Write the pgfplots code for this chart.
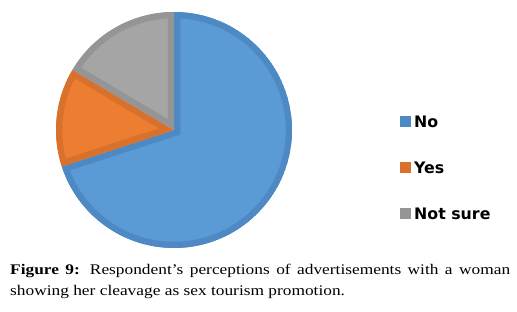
\documentclass[border=0pt]{standalone}
\usepackage{pgfplots}
\pgfplotsset{compat=1.18}
\usepackage{pgfplotstable}
\usepackage{fontspec}
\setmainfont{Liberation Serif}[FakeStretch=1.18]
\newfontfamily\legfont{DejaVu Sans}
\definecolor{cNo}{HTML}{5B9BD5}
\definecolor{cNoB}{HTML}{4F89C3}
\definecolor{cYes}{HTML}{ED7D31}
\definecolor{cYesB}{HTML}{D8712C}
\definecolor{cNs}{HTML}{A5A5A5}
\definecolor{cNsB}{HTML}{959595}

\pgfplotstableread{
label value
No 70
Yes 13.5
NotSure 16.5
}\piedata

\pgfplotstablegetelem{0}{value}\of\piedata \let\vNo\pgfplotsretval
\pgfplotstablegetelem{1}{value}\of\piedata \let\vYes\pgfplotsretval
\pgfplotstablegetelem{2}{value}\of\piedata \let\vNs\pgfplotsretval
\pgfmathsetmacro{\aA}{90}
\pgfmathsetmacro{\aB}{90-3.6*\vNo}
\pgfmathsetmacro{\aC}{\aB-3.6*\vYes}
\pgfmathsetmacro{\aD}{\aC-3.6*\vNs}

\newcommand\pieR{118pt}
\newcommand\wedgepath[2]{(axis cs:0,0) -- ++(#1:\pieR) arc[start angle=#1, end angle=#2, radius=\pieR] -- cycle}
\newcommand\pieslice[4]{%
  \begin{scope}
    \clip \wedgepath{#1}{#2};
    \fill[#3] \wedgepath{#1}{#2};
    \draw[#4, line width=12.5pt, line join=miter] \wedgepath{#1}{#2};
  \end{scope}}

\begin{document}
\begin{tikzpicture}[x=1pt,y=1pt]
\useasboundingbox (0,0) rectangle (517,312);
\begin{axis}[hide axis, scale only axis, width=236pt, height=236pt,
  xmin=-1, xmax=1, ymin=-1, ymax=1, clip=false,
  at={(174pt,182pt)}, anchor=center]
  \addplot[draw=none, forget plot] coordinates {(0,0)};
  \pieslice{\aA}{\aB}{cNo}{cNoB}
  \pieslice{\aB}{\aC}{cYes}{cYesB}
  \pieslice{\aC}{\aD}{cNs}{cNsB}
\end{axis}
% legend
\fill[cNoB] (399.5,185) rectangle (410.5,196);
\node[anchor=west, inner sep=0pt, font=\legfont\bfseries\fontsize{15.8}{18}\selectfont] at (414,190.5) {No};
\fill[cYesB] (399.5,139) rectangle (410.5,150);
\node[anchor=west, inner sep=0pt, font=\legfont\bfseries\fontsize{15.8}{18}\selectfont] at (414,144.5) {Yes};
\fill[cNsB] (399.5,93) rectangle (410.5,104);
\node[anchor=west, inner sep=0pt, font=\legfont\bfseries\fontsize{15.8}{18}\selectfont] at (414,98.5) {Not sure};
% caption
\node[anchor=north west, inner sep=0pt, text width=500pt, align=justify,
  font=\fontsize{14.7}{21}\selectfont] at (10,48)
  {\textbf{Figure 9:} Respondent’s perceptions of advertisements with a woman\linebreak
   showing her cleavage as sex tourism promotion.};
\end{tikzpicture}
\end{document}
